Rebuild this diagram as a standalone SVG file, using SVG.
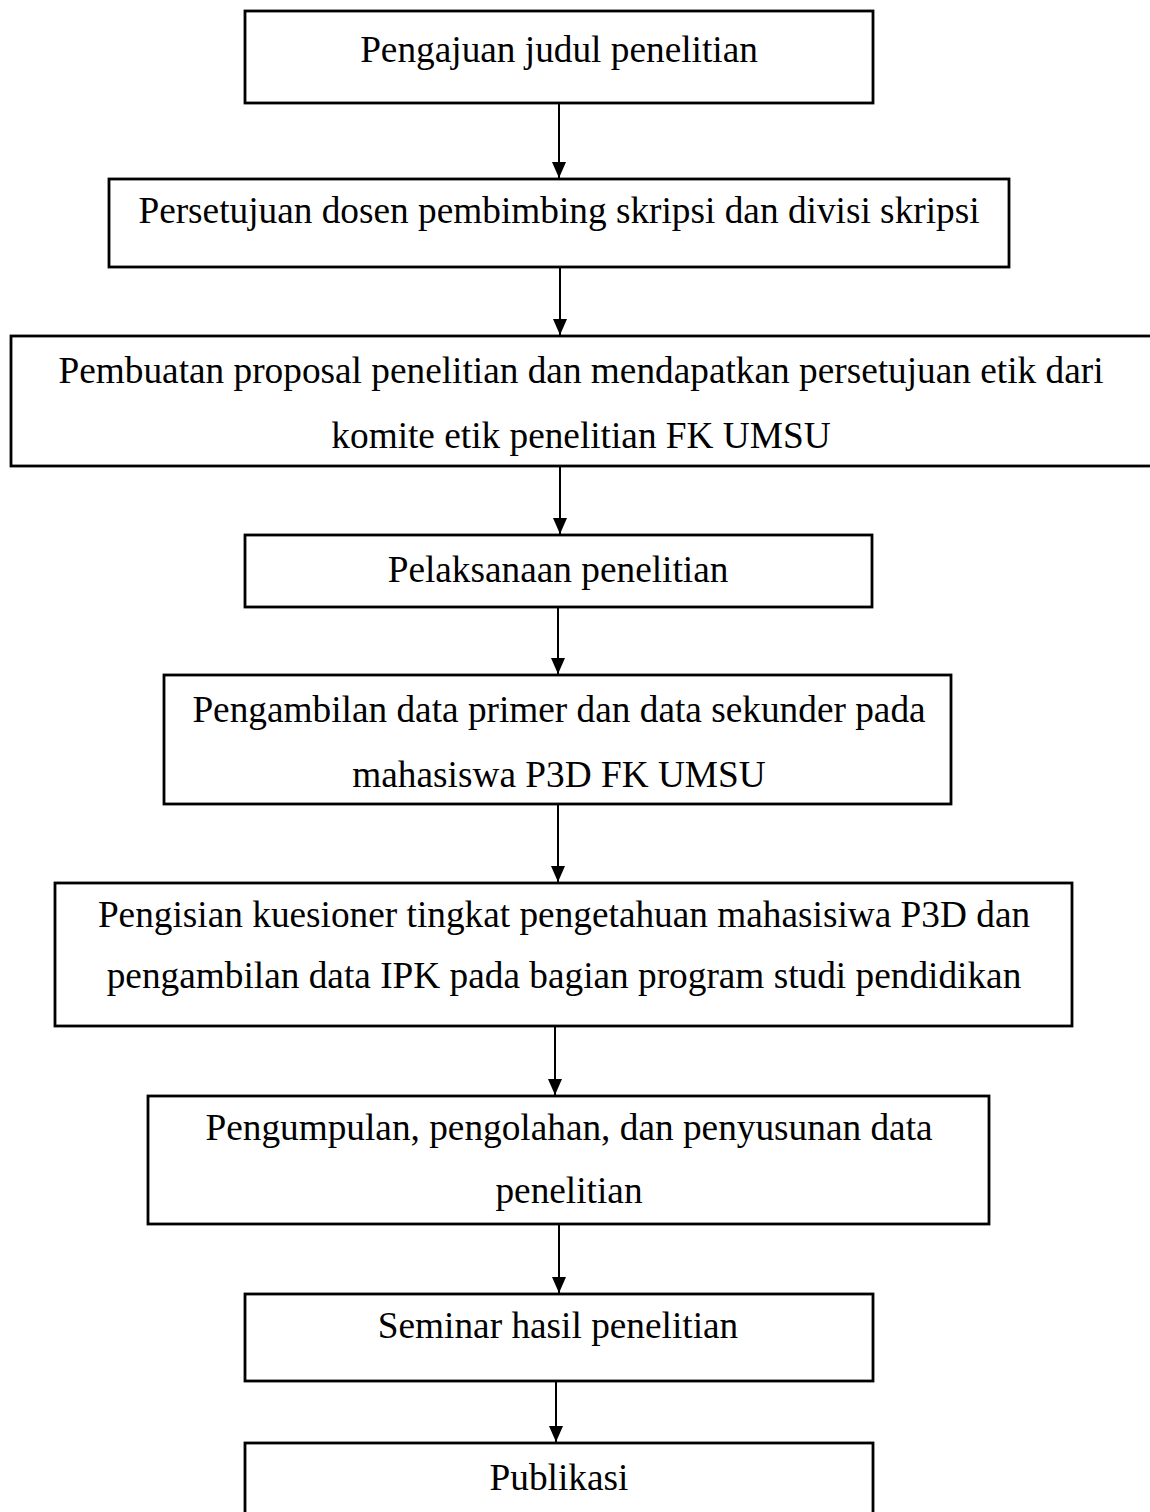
<svg xmlns="http://www.w3.org/2000/svg" width="1150" height="1512" viewBox="0 0 1150 1512">
<style>
.box{fill:#fff;stroke:#000;stroke-width:2.8}
.t{font-family:"Liberation Serif","Times New Roman",serif;font-size:37.3px;fill:#000;text-anchor:middle}
.c{stroke:#000;stroke-width:2;fill:none;marker-end:url(#ah)}
</style>
<defs>
<marker id="ah" markerUnits="userSpaceOnUse" markerWidth="16" markerHeight="16" refX="16" refY="7" orient="auto">
<path d="M0,0 L16,7 L0,14 z" fill="#000"/>
</marker>
</defs>
<rect width="1150" height="1512" fill="#fff"/>
<g id="connectors">
<line class="c" x1="559" y1="103" x2="559" y2="178"/>
<line class="c" x1="560" y1="267" x2="560" y2="335"/>
<line class="c" x1="560" y1="466" x2="560" y2="534"/>
<line class="c" x1="558" y1="607" x2="558" y2="674"/>
<line class="c" x1="558" y1="804" x2="558" y2="882"/>
<line class="c" x1="555" y1="1026" x2="555" y2="1095"/>
<line class="c" x1="559" y1="1224" x2="559" y2="1293"/>
<line class="c" x1="556" y1="1381" x2="556" y2="1442"/>
</g>
<g id="n1"><rect class="box" x="245" y="11" width="628" height="92"/><text class="t" x="559" y="62">Pengajuan judul penelitian</text></g>
<g id="n2"><rect class="box" x="109" y="179" width="900" height="88"/><text class="t" x="559" y="223">Persetujuan dosen pembimbing skripsi dan divisi skripsi</text></g>
<g id="n3"><rect class="box" x="11" y="336" width="1145" height="130"/><text class="t" x="581" y="383">Pembuatan proposal penelitian dan mendapatkan persetujuan etik dari</text><text class="t" x="581" y="448">komite etik penelitian FK UMSU</text></g>
<g id="n4"><rect class="box" x="245" y="535" width="627" height="72"/><text class="t" x="558" y="582">Pelaksanaan penelitian</text></g>
<g id="n5"><rect class="box" x="164" y="675" width="787" height="129"/><text class="t" x="559" y="722">Pengambilan data primer dan data sekunder pada</text><text class="t" x="559" y="787">mahasiswa P3D FK UMSU</text></g>
<g id="n6"><rect class="box" x="55" y="883" width="1017" height="143"/><text class="t" x="564" y="927">Pengisian kuesioner tingkat pengetahuan mahasisiwa P3D dan</text><text class="t" x="564" y="988">pengambilan data IPK pada bagian program studi pendidikan</text></g>
<g id="n7"><rect class="box" x="148" y="1096" width="841" height="128"/><text class="t" x="569" y="1140">Pengumpulan, pengolahan, dan penyusunan data</text><text class="t" x="569" y="1203">penelitian</text></g>
<g id="n8"><rect class="box" x="245" y="1294" width="628" height="87"/><text class="t" x="558" y="1338">Seminar hasil penelitian</text></g>
<g id="n9"><rect class="box" x="245" y="1443" width="628" height="90"/><text class="t" x="559" y="1490">Publikasi</text></g>
</svg>
